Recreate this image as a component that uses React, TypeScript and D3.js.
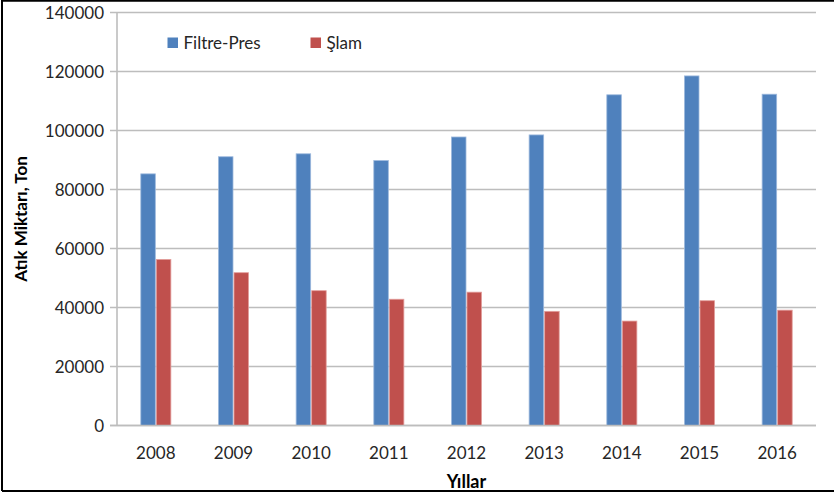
import React from "react";
import * as d3 from "d3";

const years = ["2008", "2009", "2010", "2011", "2012", "2013", "2014", "2015", "2016"];
const filtrePres = [85300, 91100, 92100, 89800, 97800, 98500, 112100, 118500, 112300];
const slam = [56300, 51800, 45700, 42800, 45200, 38700, 35400, 42300, 39100];
const seriesNames = ["Filtre-Pres", "Şlam"];
const seriesColors = ["#4F81BD", "#C0504D"];
const edgeColors = ["#9DB9DD", "#E39E9C"];
const yTicks = [0, 20000, 40000, 60000, 80000, 100000, 120000, 140000];

const W = 834;
const H = 496;
const left = 117;
const right = 816;
const top = 12.5;
const bottom = 425.5;
const font = "Lato, 'Open Sans', sans-serif";
const textColor = "#262626";

export default function App() {
  const x0 = d3.scaleBand<string>().domain(years).range([left, right]).paddingInner(0.6).paddingOuter(0.3);
  const x1 = d3.scaleBand<string>().domain(seriesNames).range([0, x0.bandwidth()]).padding(0);
  const y = d3.scaleLinear().domain([0, 140000]).range([bottom, top]);
  const values = [filtrePres, slam];

  return (
    <svg width={W} height={H} style={{ position: "absolute", left: 0, top: 0, background: "#fff" }}>
      <rect x={0} y={0} width={W} height={H} fill="#fff" />
      {/* frame */}
      <path d={`M2,491 L2,0.8 L${W},0.8 M2,491 L${W},491`} stroke="#000" strokeWidth={2} fill="none" />

      {/* gridlines and y ticks */}
      {yTicks.map((t) => (
        <g key={t}>
          <line x1={left - 7} x2={right} y1={y(t)} y2={y(t)} stroke="#BDBDBD" strokeWidth={1.6} />
          <text
            x={104}
            y={y(t)}
            dy="0.36em"
            textAnchor="end"
            fontFamily={font}
            fontSize={17}
            fill={textColor}
          >
            {t}
          </text>
        </g>
      ))}
      {/* y axis line */}
      <line x1={left} x2={left} y1={top} y2={bottom} stroke="#BDBDBD" strokeWidth={1.6} />

      {/* bars */}
      {years.map((yr, i) => (
        <g key={yr} transform={`translate(${x0(yr)},0)`}>
          {seriesNames.map((s, k) => {
            const v = values[k][i];
            return (
              <rect
                key={s}
                x={x1(s)! + 0.5}
                y={y(v)}
                width={x1.bandwidth() - 1}
                height={bottom - y(v)}
                fill={seriesColors[k]}
                stroke={edgeColors[k]}
                strokeWidth={0.8}
              />
            );
          })}
        </g>
      ))}
      {/* baseline over bars */}
      <line x1={left - 7} x2={right} y1={bottom} y2={bottom} stroke="#BDBDBD" strokeWidth={1.6} />

      {/* x labels */}
      {years.map((yr) => (
        <text
          key={yr}
          x={x0(yr)! + x0.bandwidth() / 2}
          y={459}
          textAnchor="middle"
          fontFamily={font}
          fontSize={17}
          fill={textColor}
        >
          {yr}
        </text>
      ))}

      {/* legend */}
      {seriesNames.map((s, k) => {
        const lx = k === 0 ? 167.5 : 310.5;
        return (
          <g key={s}>
            <rect x={lx} y={37.5} width={10.5} height={10.5} fill={seriesColors[k]} />
            <text x={lx + 16} y={48.5} fontFamily={font} fontSize={17} fill={textColor}>
              {s}
            </text>
          </g>
        );
      })}

      {/* axis titles */}
      <text
        transform={`translate(27,${(top + bottom) / 2}) rotate(-90)`}
        textAnchor="middle"
        fontFamily={font}
        fontWeight="bold"
        fontSize={17}
        fill="#000"
      >
        Atık Miktarı, Ton
      </text>
      <text
        x={(left + right) / 2}
        y={488}
        textAnchor="middle"
        fontFamily={font}
        fontWeight="bold"
        fontSize={18}
        fill="#000"
      >
        Yıllar
      </text>
    </svg>
  );
}
